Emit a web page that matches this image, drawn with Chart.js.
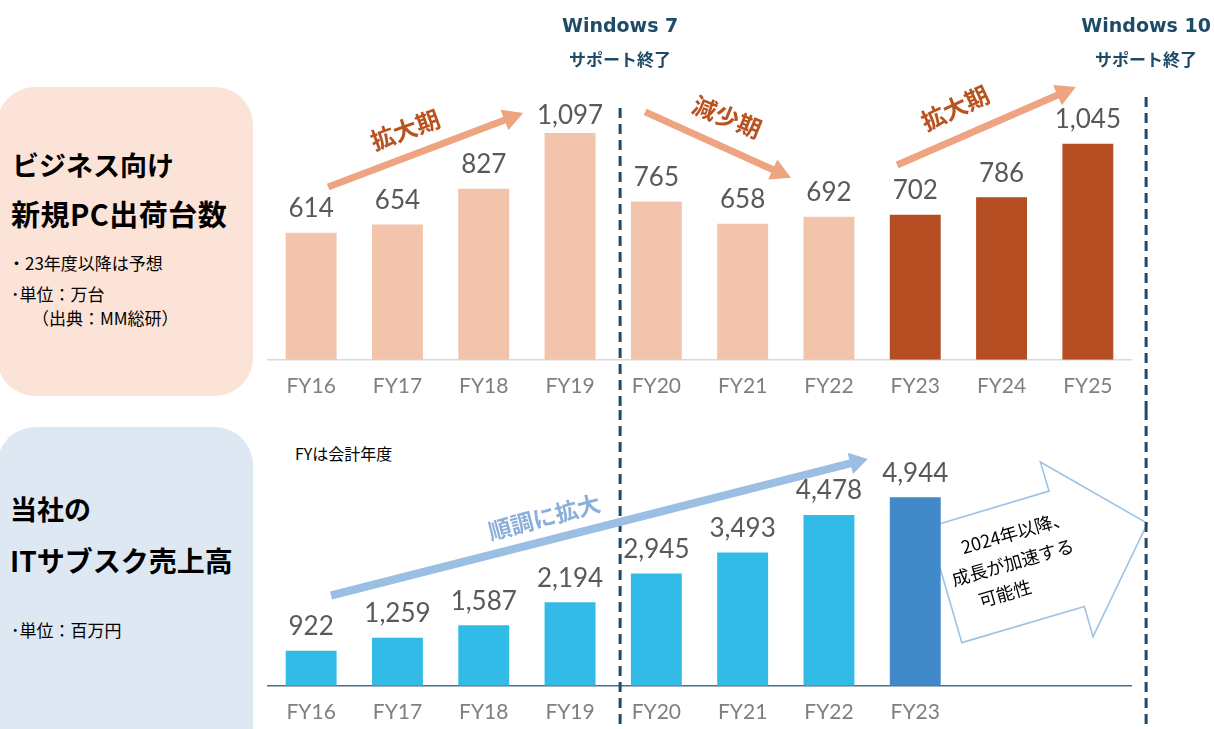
<!DOCTYPE html>
<html lang="ja">
<head>
<meta charset="utf-8">
<script src="https://cdn.jsdelivr.net/npm/chart.js@4/dist/chart.umd.min.js"></script>
<style>
  html, body { margin:0; padding:0; background:#fff; }
  body { width:1214px; height:729px; position:relative; overflow:hidden; font-family:"Noto Sans CJK JP", sans-serif; }
  .panel { position:absolute; border-radius:38px; }
  .t { position:absolute; white-space:nowrap; color:#000; }
  .title { font-weight:700; font-size:27px; line-height:32px; }
  .note { font-size:17px; line-height:22px; }
  canvas { position:absolute; left:0; }
</style>
</head>
<body>
<div class="panel" style="left:-3px; top:87px; width:256px; height:309px; background:#FBE3D7;"></div>
<div class="panel" style="left:-3px; top:427px; width:256px; height:340px; background:#DDE8F3;"></div>

<div class="t title" style="left:12px; top:149px;">ビジネス向け</div>
<div class="t title" style="left:11px; top:197px; font-size:29px; letter-spacing:0.5px;">新規PC出荷台数</div>
<div class="t note" style="left:8px; top:252px;">・23年度以降は予想</div>
<div class="t note" style="left:11px; top:283px;">･単位：万台</div>
<div class="t note" style="left:32px; top:307px;">（出典：MM総研）</div>

<div class="t title" style="left:10px; top:493px;">当社の</div>
<div class="t title" style="left:10px; top:544px; font-size:28px;">ITサブスク売上高</div>
<div class="t note" style="left:11px; top:619px;">･単位：百万円</div>

<div class="t" style="left:295px; top:442px; font-size:16px; line-height:22px;">FYは会計年度</div>

<canvas id="topChart" width="1214" height="424" style="top:0;"></canvas>
<canvas id="bottomChart" width="1214" height="334" style="top:410px;"></canvas>

<script>
// ---------- data ----------
const categories = ['FY16','FY17','FY18','FY19','FY20','FY21','FY22','FY23','FY24','FY25'];
const pcShipments = [614, 654, 827, 1097, 765, 658, 692, 702, 786, 1045];      // 万台
const pcIsForecast = [false, false, false, false, false, false, false, true, true, true];
const subsCategories = ['FY16','FY17','FY18','FY19','FY20','FY21','FY22','FY23','',''];
const subsSales = [922, 1259, 1587, 2194, 2945, 3493, 4478, 4944, null, null]; // 百万円
const subsIsLatest = [false, false, false, false, false, false, false, true, false, false];

// ---------- styles ----------
const PC_LIGHT = '#F1C4AB', PC_DARK = '#B54E22';
const SUB_MAIN = '#33BBE8', SUB_LATEST = '#4189C9';
const NAVY = '#1E4B67';
const ARROW_ORANGE = '#EEA481', TEXT_ORANGE = '#B9521F';
const ARROW_BLUE = '#9BBFE2', TEXT_BLUE = '#8CAFDA';
const NUM_FONT = 'Lato, "Open Sans", sans-serif';
const JP_FONT = '"Noto Sans CJK JP", sans-serif';
const TOP_STRIP_END = 410;

function helpers(chart) {
  const xs = chart.scales.x, ys = chart.scales.y;
  const x0 = xs.getPixelForValue(0), step = xs.getPixelForValue(1) - x0;
  return { X: i => x0 + i * step, Y: v => ys.getPixelForValue(v) };
}

function drawArrow(ctx, x1, y1, x2, y2, w, L, H, color) {
  const dx = x2 - x1, dy = y2 - y1, len = Math.hypot(dx, dy);
  const ux = dx / len, uy = dy / len, nx = -uy, ny = ux;
  const bx = x2 - ux * L, by = y2 - uy * L;
  ctx.save();
  ctx.strokeStyle = color; ctx.fillStyle = color; ctx.lineWidth = w; ctx.lineCap = 'butt';
  ctx.beginPath(); ctx.moveTo(x1, y1); ctx.lineTo(bx + ux, by + uy); ctx.stroke();
  ctx.beginPath(); ctx.moveTo(x2, y2); ctx.lineTo(bx + nx * H, by + ny * H); ctx.lineTo(bx - nx * H, by - ny * H); ctx.closePath(); ctx.fill();
  ctx.restore();
}

function rotText(ctx, text, x, y, deg, font, color) {
  ctx.save();
  ctx.translate(x, y); ctx.rotate(deg * Math.PI / 180);
  ctx.font = font; ctx.fillStyle = color; ctx.textAlign = 'center'; ctx.textBaseline = 'middle';
  ctx.fillText(text, 0, 0);
  ctx.restore();
}

function dashedLine(ctx, x, yTop, yBottom) {
  ctx.save();
  ctx.strokeStyle = NAVY; ctx.lineWidth = 3; ctx.setLineDash([10, 6]);
  ctx.beginPath(); ctx.moveTo(x, yTop); ctx.lineTo(x, yBottom); ctx.stroke();
  ctx.restore();
}

const valueLabels = {
  id: 'valueLabels',
  afterDatasetsDraw(chart, args, opts) {
    const ctx = chart.ctx, ds = chart.data.datasets[0], meta = chart.getDatasetMeta(0);
    ctx.save();
    ctx.font = '26px ' + NUM_FONT; ctx.fillStyle = '#595959';
    ctx.textAlign = 'center'; ctx.textBaseline = 'middle';
    meta.data.forEach((bar, i) => {
      const v = ds.data[i];
      if (v == null) return;
      let y = bar.y - 24;
      if (opts.clamp) y = Math.max(y, chart.chartArea.top + 24.5);
      ctx.fillText(v.toLocaleString('en-US'), bar.x, y);
    });
    ctx.restore();
  }
};

const SUPPORT_END = [ { pos: 3.58, title: 'Windows 7', top: 108 }, { pos: 9.675, title: 'Windows 10', top: 97 } ];

const topAnnotations = {
  id: 'topAnnotations',
  afterDraw(chart) {
    const ctx = chart.ctx, { X, Y } = helpers(chart);
    SUPPORT_END.forEach(s => {
      dashedLine(ctx, X(s.pos), s.top, TOP_STRIP_END);
      ctx.save();
      ctx.fillStyle = NAVY; ctx.textAlign = 'center'; ctx.textBaseline = 'middle';
      ctx.font = 'bold 19px "DejaVu Sans", sans-serif';
      ctx.fillText(s.title, X(s.pos), 27);
      ctx.font = 'bold 17px ' + JP_FONT;
      ctx.fillText('サポート終了', X(s.pos), 60);
      ctx.restore();
    });
    drawArrow(ctx, X(0.197), Y(836), X(2.457), Y(1194), 7, 20, 11, ARROW_ORANGE);
    rotText(ctx, '拡大期', X(1.09), Y(1112), -20, 'bold 24px ' + JP_FONT, TEXT_ORANGE);
    drawArrow(ctx, X(3.87), Y(1199), X(5.56), Y(880), 7, 20, 11, ARROW_ORANGE);
    rotText(ctx, '減少期', X(4.82), Y(1174), 22, 'bold 24px ' + JP_FONT, TEXT_ORANGE);
    drawArrow(ctx, X(6.79), Y(942), X(8.86), Y(1319), 7, 20, 11, ARROW_ORANGE);
    rotText(ctx, '拡大期', X(7.46), Y(1218), -25, 'bold 24px ' + JP_FONT, TEXT_ORANGE);
  }
};

const bottomAnnotations = {
  id: 'bottomAnnotations',
  beforeDatasetsDraw(chart) {
    const ctx = chart.ctx, { X, Y } = helpers(chart);
    const pts = [[7.15,4158],[8.55,5105],[8.45,5868],[9.69,4263],[9.06,1289],[8.96,2079],[7.54,1132]];
    ctx.save();
    ctx.strokeStyle = '#9DC3E6'; ctx.lineWidth = 1.6; ctx.lineJoin = 'miter';
    ctx.beginPath();
    pts.forEach((p, k) => k ? ctx.lineTo(X(p[0]), Y(p[1])) : ctx.moveTo(X(p[0]), Y(p[1])));
    ctx.closePath(); ctx.stroke();
    ctx.restore();
    const f = '18px ' + JP_FONT;
    rotText(ctx, '2024年以降、', X(8.16), Y(4026), -16, f, '#000');
    rotText(ctx, '成長が加速する', X(8.13), Y(3237), -16, f, '#000');
    rotText(ctx, '可能性', X(8.04), Y(2421), -16, f, '#000');
  },
  afterDraw(chart) {
    const ctx = chart.ctx, { X, Y } = helpers(chart);
    SUPPORT_END.forEach(s => dashedLine(ctx, X(s.pos), 0, chart.height));
    drawArrow(ctx, X(0.23), Y(2368), X(6.45), Y(5947), 8, 18, 11, ARROW_BLUE);
    rotText(ctx, '順調に拡大', X(2.70), Y(4421), -15, 'bold 23px ' + JP_FONT, TEXT_BLUE);
  }
};

function xAxis(borderColor, labelsColor) {
  return {
    grid: { display: false, drawTicks: false },
    border: { display: true, color: borderColor, width: 1.5 },
    ticks: { font: { family: NUM_FONT, size: 21 }, color: labelsColor, padding: 14, maxRotation: 0, autoSkip: false }
  };
}

new Chart(document.getElementById('topChart'), {
  type: 'bar',
  data: {
    labels: categories,
    datasets: [{
      data: pcShipments,
      backgroundColor: pcIsForecast.map(f => f ? PC_DARK : PC_LIGHT),
      barPercentage: 0.59, categoryPercentage: 1
    }]
  },
  options: {
    responsive: false, animation: false,
    layout: { padding: { left: 268, right: 83, top: 91, bottom: 11 } },
    plugins: { legend: { display: false }, tooltip: { enabled: false }, valueLabels: { clamp: true } },
    scales: {
      x: xAxis('#D9D9D9', '#7F7F7F'),
      y: { display: false, min: 0, max: 1300 }
    }
  },
  plugins: [valueLabels, topAnnotations]
});

new Chart(document.getElementById('bottomChart'), {
  type: 'bar',
  data: {
    labels: subsCategories,
    datasets: [{
      data: subsSales,
      backgroundColor: subsIsLatest.map(f => f ? SUB_LATEST : SUB_MAIN),
      barPercentage: 0.59, categoryPercentage: 1
    }]
  },
  options: {
    responsive: false, animation: false,
    layout: { padding: { left: 268, right: 83, top: 47, bottom: 5 } },
    plugins: { legend: { display: false }, tooltip: { enabled: false }, valueLabels: { clamp: false } },
    scales: {
      x: xAxis('#4A6F87', '#7F7F7F'),
      y: { display: false, min: 0, max: 6000 }
    }
  },
  plugins: [valueLabels, bottomAnnotations]
});
</script>
</body>
</html>
